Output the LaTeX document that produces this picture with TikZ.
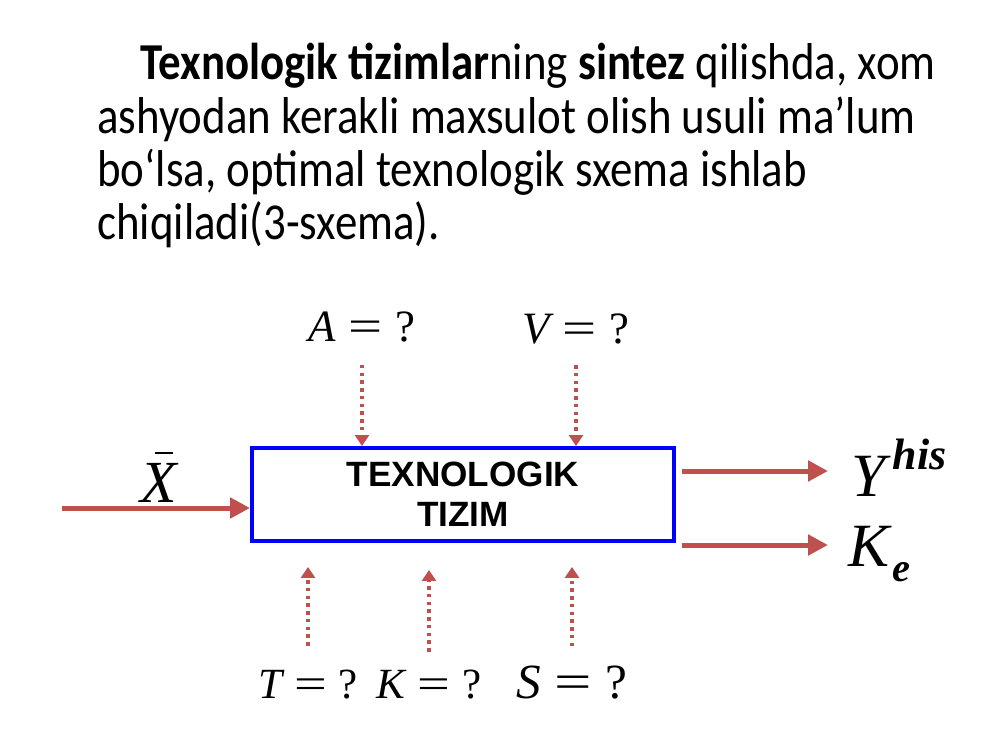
\documentclass[tikz,border=0pt]{standalone}
\usepackage{graphicx}
\usepackage{fontspec}
\setmainfont{Carlito}
\newfontfamily\titlefont[FakeStretch=0.866]{Carlito}
\newfontfamily\arialfont{Liberation Sans}
\newfontfamily\timesfont{Liberation Serif}
\usetikzlibrary{arrows.meta}
\definecolor{arrred}{HTML}{C0504D}
\definecolor{boxblue}{HTML}{0000FF}
\newcommand\unknown[1]{{\itshape #1}\hspace{0.28em}\scalebox{1.35}[1]{=}\hspace{0.28em}?}
\begin{document}
\begin{tikzpicture}[x=0.02cm,y=-0.02cm,
		line/.style={font=\titlefont\fontsize{29.5}{30}\selectfont,anchor=base west,inner sep=0pt},
		mlabel/.style={font=\timesfont\fontsize{25.5}{26}\selectfont,anchor=base,inner sep=0pt},
		flow/.style={arrred,line width=0.1cm,-{Triangle[width=0.4cm,length=0.4cm]}},
		dotflow/.style={arrred,line width=0.075cm,dash pattern=on 0.07cm off 0.085cm,-{Triangle[width=0.28cm,length=0.22cm]}}]
	\useasboundingbox (0,0) rectangle (1000,750);
	% text above
	\node[line] (l1) at (140,80) {\textbf{Texnologik tizimlar}ning \textbf{sintez} qilishda, xom};
	\node[line] (l2) at (97,133) {ashyodan kerakli maxsulot olish usuli ma’lum};
	\node[line] (l3) at (97,186) {bo‘lsa, optimal texnologik sxema ishlab};
	\node[line] (l4) at (97,239) {chiqiladi(3-sxema).};
	% system
	\node[draw=boxblue,line width=0.08cm,minimum width=8.44cm,minimum height=1.86cm,align=center,
		font=\arialfont\bfseries\fontsize{20}{22.7}\selectfont] (box) at (463,494.5) {TEXNOLOGIK\\TIZIM};
	\node[mlabel] (A) at (362,341) {\unknown{A}};
	\node[mlabel] (V) at (576,343) {\unknown{V}};
	\node[mlabel,font=\timesfont\fontsize{24.5}{26}\selectfont] (T) at (308,698) {\unknown{T}};
	\node[mlabel,font=\timesfont\fontsize{24.5}{26}\selectfont] (K) at (429,698) {\unknown{K}};
	\node[mlabel,font=\timesfont\fontsize{28}{28}\selectfont] (S) at (572,698) {\unknown{S}};
	\node[mlabel,font=\timesfont\itshape\fontsize{34}{36}\selectfont] (X) at (159,502)
		{\makebox[0pt][l]{\hspace{0.24em}\rule[0.8em]{0.3em}{0.035em}}X};
	\node[mlabel,anchor=base west,font=\timesfont\itshape\fontsize{35}{38}\selectfont] (Y) at (851,496)
		{Y\hspace{0.12em}\raisebox{15pt}{\fontsize{25}{25}\selectfont\bfseries his}};
	\node[mlabel,anchor=base west,font=\timesfont\itshape\fontsize{35}{38}\selectfont] (Ke) at (848,566)
		{K\hspace{0.05em}\raisebox{-9pt}{\fontsize{23}{24}\selectfont\bfseries e}};
	% flows
	\coordinate (xs) at (62,508);
	\coordinate (ye) at (828,471);
	\coordinate (ke) at (828,545);
	\draw[flow] (xs) -- (xs -| box.west);
	\draw[flow] ([xshift=0.12cm]box.east |- ye) -- (ye);
	\draw[flow] ([xshift=0.12cm]box.east |- ke) -- (ke);
	\draw[dotflow,shorten <=0.46cm] (A.south) -- (A.south |- box.north);
	\draw[dotflow,shorten <=0.42cm] (V.south) -- (V.south |- box.north);
	\draw[dotflow,shorten <=0.47cm,shorten >=0.48cm] (T.north) -- (T.north |- box.south);
	\draw[dotflow,shorten <=0.35cm,shorten >=0.54cm] (K.north) -- (K.north |- box.south);
	\draw[dotflow,shorten <=0.38cm,shorten >=0.48cm] (S.north) -- (S.north |- box.south);
\end{tikzpicture}
\end{document}
